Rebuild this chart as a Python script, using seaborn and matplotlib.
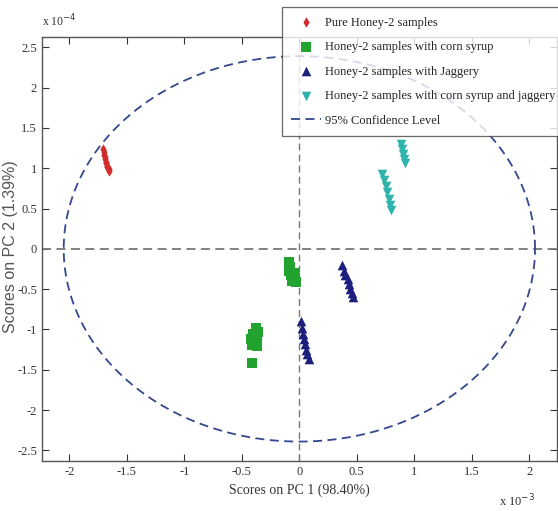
import numpy as np
import pandas as pd
import matplotlib
matplotlib.use('Agg')
import matplotlib.pyplot as plt
import seaborn as sns

# scores, PC1 in units of 1e-3, PC2 in units of 1e-4
pure_x = [-1.71, -1.70, -1.70, -1.69, -1.69, -1.68, -1.68, -1.67, -1.67, -1.66, -1.66]
pure_y = [1.24, 1.20, 1.17, 1.14, 1.11, 1.08, 1.06, 1.03, 1.01, 0.99, 0.97]

corn_x = [-0.09, -0.08, -0.09, -0.07, -0.05, -0.04, -0.03, -0.06,
          -0.38, -0.36, -0.40, -0.37, -0.42, -0.39, -0.41, -0.37, -0.41]
corn_y = [-0.16, -0.22, -0.28, -0.33, -0.30, -0.36, -0.41, -0.40,
          -0.98, -1.03, -1.06, -1.10, -1.12, -1.15, -1.19, -1.20, -1.42]

jag_x = [0.37, 0.39, 0.40, 0.42, 0.43, 0.44, 0.46, 0.47,
         0.01, 0.02, 0.03, 0.04, 0.05, 0.06, 0.07, 0.08]
jag_y = [-0.20, -0.27, -0.33, -0.38, -0.44, -0.50, -0.55, -0.60,
         -0.90, -0.98, -1.05, -1.12, -1.18, -1.25, -1.31, -1.36]

both_x = [0.88, 0.89, 0.90, 0.91, 0.92,
          0.72, 0.74, 0.75, 0.76, 0.78, 0.79, 0.80]
both_y = [1.30, 1.24, 1.18, 1.12, 1.06,
          0.93, 0.85, 0.78, 0.70, 0.62, 0.55, 0.48]

labels = ['Pure Honey-2 samples',
          'Honey-2 samples with corn syrup',
          'Honey-2 samples with Jaggery',
          'Honey-2 samples with corn syrup and jaggery']

# 95% confidence ellipse: centre and semi-axes
ell_center = (0.0, 0.0)
ell_axes = (2.05, 2.39)

x_ticks = [-2, -1.5, -1, -0.5, 0, 0.5, 1, 1.5, 2]
y_ticks = [-2.5, -2, -1.5, -1, -0.5, 0, 0.5, 1, 1.5, 2, 2.5]

df = pd.concat([
    pd.DataFrame({'pc1': pure_x, 'pc2': pure_y, 'group': labels[0]}),
    pd.DataFrame({'pc1': corn_x, 'pc2': corn_y, 'group': labels[1]}),
    pd.DataFrame({'pc1': jag_x, 'pc2': jag_y, 'group': labels[2]}),
    pd.DataFrame({'pc1': both_x, 'pc2': both_y, 'group': labels[3]}),
])

sns.set_style('white')
plt.rcParams['font.family'] = ['Liberation Serif', 'DejaVu Serif']
plt.rcParams['axes.unicode_minus'] = False

fig = plt.figure(figsize=(5.58, 5.11), dpi=100)
ax = fig.add_axes([0.075, 0.098, 0.923, 0.830])

palette = {labels[0]: '#d22b2b', labels[1]: '#22a22e',
           labels[2]: '#1c1f7e', labels[3]: '#2fb3ad'}
markers = {labels[0]: 'd', labels[1]: 's', labels[2]: '^', labels[3]: 'v'}
sizes = {labels[0]: 28, labels[1]: 42, labels[2]: 48, labels[3]: 48}

for g in labels:
    sub = df[df.group == g]
    sns.scatterplot(data=sub, x='pc1', y='pc2', ax=ax, color=palette[g],
                    marker=markers[g], s=sizes[g], linewidth=0, label=g, zorder=3)

# axes through origin
ax.axhline(0, color='#777777', ls=(0, (5, 3)), lw=1.3, zorder=1)
ax.axvline(0, color='#777777', ls=(0, (5, 3)), lw=1.0, zorder=1)

t = np.linspace(0, 2 * np.pi, 400)
ax.plot(ell_center[0] + ell_axes[0] * np.cos(t), ell_center[1] + ell_axes[1] * np.sin(t),
        color='#34478f', ls=(0, (5, 3)), lw=1.3, label='95% Confidence Level', zorder=2)

ax.set_xlim(-2.24, 2.24)
ax.set_ylim(-2.63, 2.63)
ax.set_xticks(x_ticks)
ax.set_yticks(y_ticks)
ax.set_xticklabels(['%g' % v for v in x_ticks])
ax.set_yticklabels(['%g' % v for v in y_ticks])
ax.tick_params(direction='in', length=5, width=0.8, labelsize=9, colors='#333333',
               top=True, right=True, bottom=True, left=True)
for s in ax.spines.values():
    s.set_color('#555555')
    s.set_linewidth(1.0)

ax.set_xlabel('Scores on PC 1 (98.40%)', fontsize=10, color='#333333', labelpad=4)
ax.set_ylabel('Scores on PC 2 (1.39%)', fontsize=11.5, color='#555555',
              family=['Liberation Sans', 'DejaVu Sans'])
ax.yaxis.set_label_coords(-0.046, 0.505)

fig.text(0.075, 0.948, r'x 10$^{-4}$', fontsize=8.5, color='#333333')
fig.text(0.895, 0.01, r'x 10$^{-3}$', fontsize=9, color='#333333')

handles, labs = ax.get_legend_handles_labels()
ax.get_legend().remove()
leg = fig.legend(handles, labs, loc='upper left', bbox_to_anchor=(0.505, 0.986),
                 fontsize=9, frameon=True, fancybox=False, edgecolor='#444444',
                 handlelength=2.4, handletextpad=0.3, labelspacing=1.0,
                 borderpad=0.75, borderaxespad=0)
leg.get_frame().set_linewidth(0.9)

fig.savefig('out.png', dpi=100)
